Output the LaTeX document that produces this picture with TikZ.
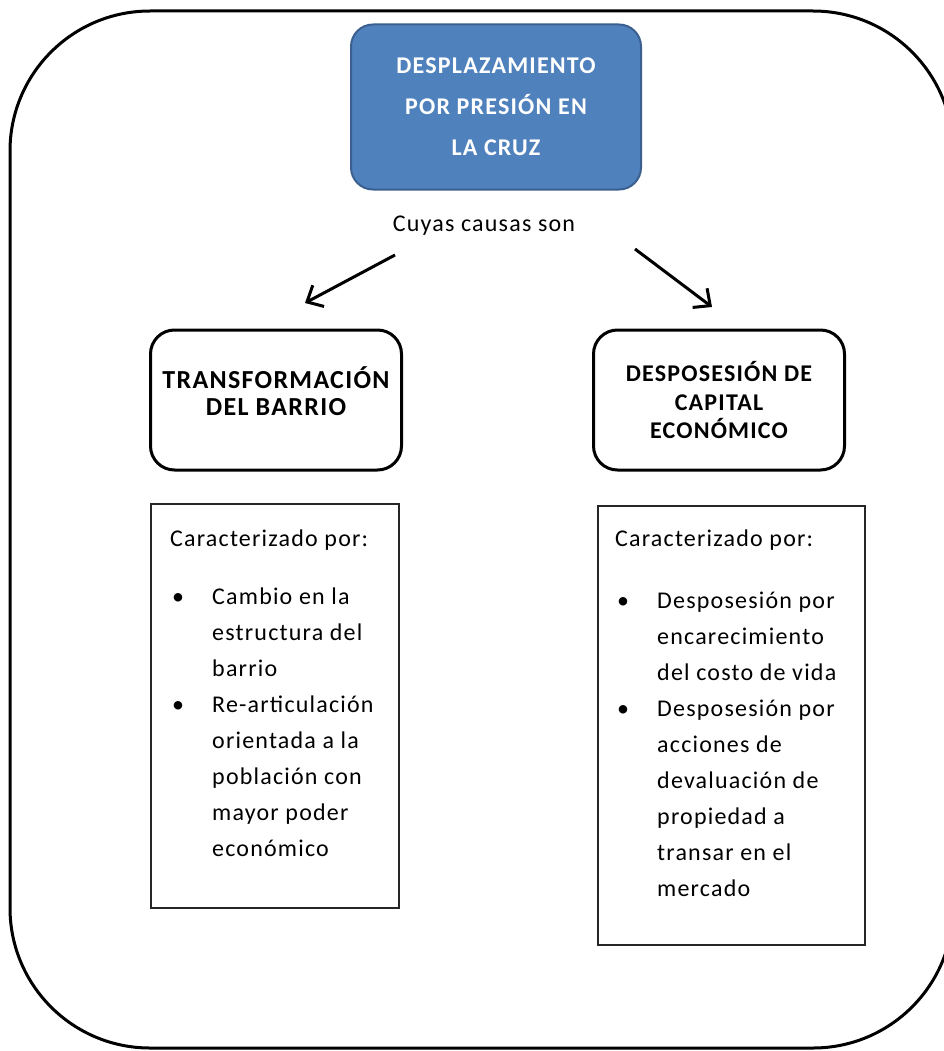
\documentclass[tikz,border=0pt]{standalone}
\usepackage{fontspec}
\setmainfont{Carlito}[LetterSpace=5]
\usepackage{tikz}
\usetikzlibrary{positioning}
\usetikzlibrary{arrows.meta}
\definecolor{titlefill}{HTML}{4F81BD}
\definecolor{titleline}{HTML}{3B6090}
\newcommand{\lsitm}{\makebox[42pt][l]{\hspace{2pt}\textbullet}}
\newcommand{\lsind}{\hspace*{42pt}}
\tikzset{titlebox/.style={draw=titleline, line width=2pt, fill=titlefill,
rounded corners=22pt, minimum width=290pt, minimum height=165pt, align=center,
text=white, font=\bfseries\fontsize{24}{41}\selectfont},
causebox/.style={draw, line width=3pt, rounded corners=24pt,
minimum width=251pt, minimum height=140pt, align=center,
font=\bfseries\fontsize{24}{28.5}\selectfont},
listbox/.style={draw=black!85, line width=2pt, anchor=north west, inner sep=0pt},
listtxt/.style={anchor=north west, inner sep=0pt, align=left,
font=\fontsize{24}{36}\selectfont},
causearrow/.style={line width=3pt, -{Straight Barb[length=13pt, width=24pt]}}}

\begin{document}
\begin{tikzpicture}[x=1pt, y=-1pt, headtxt/.style={align=center, inner sep=0pt,
font=\bfseries\fontsize{26}{27}\selectfont}]
	\useasboundingbox (0,0) rectangle (944,1051);
	\draw[line width=3pt, rounded corners=140pt] (10,11) rectangle (953,1048);
	\node[titlebox] (titulo) at (496,107) {DESPLAZAMIENTO\\POR PRESIÓN EN\\LA CRUZ};
	\node[font=\fontsize{24}{28}\selectfont] (causas) at (484,226) {Cuyas causas son};
	\coordinate (izq0) at (395,255);
	\coordinate (izq1) at (305,303);
	\coordinate (der0) at (635,249);
	\coordinate (der1) at (712,307);
	\draw[causearrow] (izq0) -- (izq1);
	\draw[causearrow] (der0) -- (der1);
	\node[causebox] (barrio) at (276,400) {};
	\node[headtxt, below=38pt of barrio.north] (barrioT) {TRANSFORMACIÓN\\DEL BARRIO};
	\node[causebox] (capital) at (719,400) {DESPOSESIÓN DE\\CAPITAL\\ECONÓMICO};
	\node[listbox, minimum width=248pt, minimum height=404pt] (barrioL) at (150,503) {};
	\node[listtxt] (barrioLT) at ([shift={(20,27)}]barrioL.north west) {Caracterizado por:\\[22pt]
		\lsitm Cambio en la\\
		\lsind estructura del\\
		\lsind barrio\\
		\lsitm Re-articulación\\
		\lsind orientada a la\\
		\lsind población con\\
		\lsind mayor poder\\
		\lsind económico};
	\node[listbox, minimum width=267pt, minimum height=439pt] (capitalL) at (597,505) {};
	\node[listtxt] (capitalLT) at ([shift={(18,25)}]capitalL.north west) {Caracterizado por:\\[26pt]
		\lsitm Desposesión por\\
		\lsind encarecimiento\\
		\lsind del costo de vida\\
		\lsitm Desposesión por\\
		\lsind acciones de\\
		\lsind devaluación de\\
		\lsind propiedad a\\
		\lsind transar en el\\
		\lsind mercado};
\end{tikzpicture}
\end{document}
